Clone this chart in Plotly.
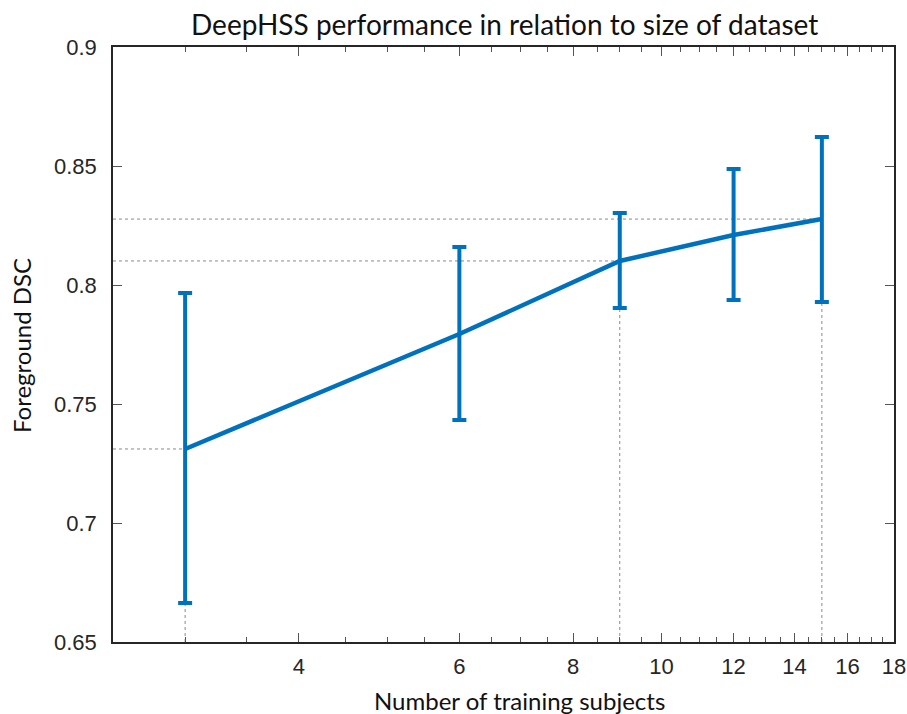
import math
import plotly.graph_objects as go

subjects = [3, 6, 9, 12, 15]
dsc_mean = [0.7311, 0.7794, 0.8101, 0.8210, 0.8277]
dsc_upper = [0.7966, 0.8160, 0.8303, 0.8487, 0.8622]
dsc_lower = [0.6664, 0.7433, 0.7903, 0.7937, 0.7929]
ref_subjects = [3, 9, 15]

x_range = [2.5, 18]
y_range = [0.65, 0.9]
x_tickvals = [4, 6, 8, 10, 12, 14, 16, 18]
x_minor = [2.5, 3, 3.5, 4.5, 5, 5.5, 6.5, 7, 7.5, 8.5, 9, 9.5, 10.5, 11, 11.5,
           12.5, 13, 13.5, 14.5, 15, 15.5, 16.5, 17, 17.5]
y_tickvals = [0.65, 0.7, 0.75, 0.8, 0.85, 0.9]
y_ticktext = ["0.65", "0.7", "0.75", "0.8", "0.85", "0.9"]

blue = "#0072BD"
fig = go.Figure()

# dotted reference lines
for s in ref_subjects:
    v = dsc_mean[subjects.index(s)]
    fig.add_trace(go.Scatter(x=[x_range[0], s], y=[v, v], mode="lines",
                             line=dict(color="#8a8a8a", width=1, dash="dot"),
                             hoverinfo="skip", showlegend=False))
    fig.add_trace(go.Scatter(x=[s, s], y=[y_range[0], v], mode="lines",
                             line=dict(color="#8a8a8a", width=1, dash="dot"),
                             hoverinfo="skip", showlegend=False))

fig.add_trace(go.Scatter(
    x=subjects, y=dsc_mean, mode="lines",
    line=dict(color=blue, width=4.5),
    error_y=dict(type="data", symmetric=False,
                 array=[u - m for u, m in zip(dsc_upper, dsc_mean)],
                 arrayminus=[m - l for m, l in zip(dsc_mean, dsc_lower)],
                 color=blue, thickness=4, width=7),
    showlegend=False))

tickfont = dict(family="Liberation Sans", size=22, color="#262626")
titlefont = dict(family="Lato", size=24, color="#111")

fig.update_layout(
    width=907, height=714,
    margin=dict(l=113, r=13, t=47, b=72),
    paper_bgcolor="white", plot_bgcolor="white",
    xaxis=dict(type="log", range=[math.log10(x_range[0]), math.log10(x_range[1])],
               tickmode="array", tickvals=x_tickvals,
               ticktext=[str(v) for v in x_tickvals],
               ticks="inside", ticklen=9, tickcolor="#555", tickwidth=1,
               minor=dict(tickmode="array", tickvals=x_minor, ticks="inside",
                          ticklen=5, tickcolor="#555", tickwidth=1),
               showline=True, linecolor="#262626", linewidth=1.5, mirror="ticks",
               showgrid=False, zeroline=False, automargin=False,
               ticklabelstandoff=4, tickfont=tickfont),
    yaxis=dict(range=y_range, tickmode="array", tickvals=y_tickvals,
               ticktext=y_ticktext,
               ticks="inside", ticklen=9, tickcolor="#555", tickwidth=1,
               showline=True, linecolor="#262626", linewidth=1.5, mirror="ticks",
               showgrid=False, zeroline=False, automargin=False,
               ticklabelstandoff=10, tickfont=tickfont),
    annotations=[
        dict(text="DeepHSS performance in relation to size of dataset",
             xref="paper", yref="paper", x=0.501, y=1 + 23 / 595,
             xanchor="center", yanchor="middle", showarrow=False,
             font=dict(family="Lato", size=28, color="#111")),
        dict(text="Number of training subjects",
             xref="paper", yref="paper", x=0.52, y=-58 / 595,
             xanchor="center", yanchor="middle", showarrow=False, font=titlefont),
        dict(text="Foreground DSC",
             xref="paper", yref="paper", x=-91 / 781, y=0.4975, textangle=-90,
             xanchor="center", yanchor="middle", showarrow=False, font=titlefont),
    ],
)

fig.write_html("out.html")
